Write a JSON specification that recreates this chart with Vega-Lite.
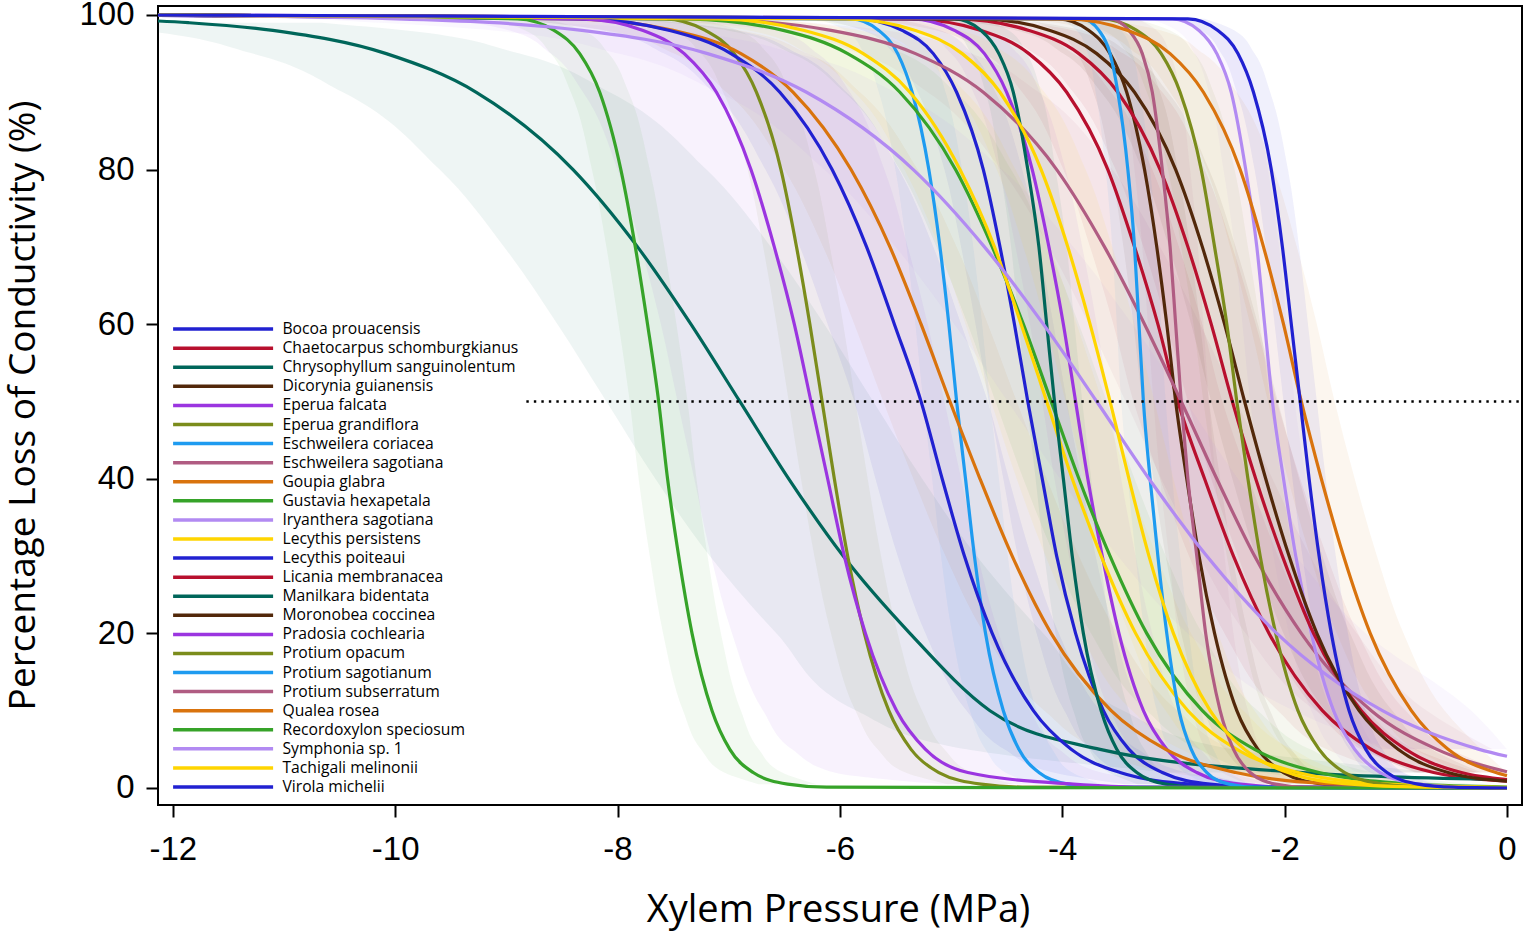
{
"$schema": "https://vega.github.io/schema/vega-lite/v6.json",
"width": 1364, "height": 799,
"autosize": {"type": "none"},
"padding": {"left": 158, "top": 6, "right": 2, "bottom": 129},
"background": "white",
"config": {"view": {"stroke": "black", "strokeWidth": 2}},
"datasets": {
"ref": [{"p": -8.82, "p2": 0.135, "y": 50}],
"c": [
{"sp":"Bocoa prouacensis","x":-12.5,"y":100},
{"sp":"Bocoa prouacensis","x":-5.84,"y":99.5,"lo":-6.19,"hi":-5.49},
{"sp":"Bocoa prouacensis","x":-5.44,"y":98,"lo":-5.79,"hi":-5.09},
{"sp":"Bocoa prouacensis","x":-5.16,"y":95,"lo":-5.51,"hi":-4.81},
{"sp":"Bocoa prouacensis","x":-4.95,"y":90,"lo":-5.30,"hi":-4.60},
{"sp":"Bocoa prouacensis","x":-4.71,"y":80,"lo":-5.06,"hi":-4.36},
{"sp":"Bocoa prouacensis","x":-4.56,"y":70,"lo":-4.91,"hi":-4.21},
{"sp":"Bocoa prouacensis","x":-4.43,"y":60,"lo":-4.78,"hi":-4.08},
{"sp":"Bocoa prouacensis","x":-4.31,"y":50,"lo":-4.66,"hi":-3.96},
{"sp":"Bocoa prouacensis","x":-4.18,"y":40,"lo":-4.53,"hi":-3.83},
{"sp":"Bocoa prouacensis","x":-4.05,"y":30,"lo":-4.40,"hi":-3.70},
{"sp":"Bocoa prouacensis","x":-3.88,"y":20,"lo":-4.23,"hi":-3.53},
{"sp":"Bocoa prouacensis","x":-3.63,"y":10,"lo":-3.98,"hi":-3.28},
{"sp":"Bocoa prouacensis","x":-3.40,"y":5,"lo":-3.75,"hi":-3.05},
{"sp":"Bocoa prouacensis","x":-3.10,"y":2,"lo":-3.45,"hi":-2.75},
{"sp":"Bocoa prouacensis","x":-2.67,"y":0.5,"lo":-3.02,"hi":-2.32},
{"sp":"Bocoa prouacensis","x":-2.17,"y":0.1},
{"sp":"Bocoa prouacensis","x":0,"y":0},

{"sp":"Chaetocarpus schomburgkianus","x":-12.5,"y":100},
{"sp":"Chaetocarpus schomburgkianus","x":-5.37,"y":99.5,"lo":-5.77,"hi":-4.97},
{"sp":"Chaetocarpus schomburgkianus","x":-4.73,"y":98,"lo":-5.13,"hi":-4.33},
{"sp":"Chaetocarpus schomburgkianus","x":-4.30,"y":95,"lo":-4.70,"hi":-3.90},
{"sp":"Chaetocarpus schomburgkianus","x":-3.96,"y":90,"lo":-4.36,"hi":-3.56},
{"sp":"Chaetocarpus schomburgkianus","x":-3.59,"y":80,"lo":-3.99,"hi":-3.19},
{"sp":"Chaetocarpus schomburgkianus","x":-3.35,"y":70,"lo":-3.75,"hi":-2.95},
{"sp":"Chaetocarpus schomburgkianus","x":-3.14,"y":60,"lo":-3.54,"hi":-2.74},
{"sp":"Chaetocarpus schomburgkianus","x":-2.96,"y":50,"lo":-3.36,"hi":-2.56},
{"sp":"Chaetocarpus schomburgkianus","x":-2.72,"y":40,"lo":-3.12,"hi":-2.32},
{"sp":"Chaetocarpus schomburgkianus","x":-2.46,"y":30,"lo":-2.86,"hi":-2.06},
{"sp":"Chaetocarpus schomburgkianus","x":-2.14,"y":20,"lo":-2.54,"hi":-1.74},
{"sp":"Chaetocarpus schomburgkianus","x":-1.66,"y":10,"lo":-2.06,"hi":-1.26},
{"sp":"Chaetocarpus schomburgkianus","x":-1.22,"y":5,"lo":-1.62,"hi":-0.82},
{"sp":"Chaetocarpus schomburgkianus","x":-0.66,"y":2,"lo":-1.06,"hi":-0.26},
{"sp":"Chaetocarpus schomburgkianus","x":0,"y":0.9},

{"sp":"Chrysophyllum sanguinolentum","x":-12.5,"y":99.44},
{"sp":"Chrysophyllum sanguinolentum","x":-11.86,"y":99,"lo":-13.06,"hi":-10.66},
{"sp":"Chrysophyllum sanguinolentum","x":-11.10,"y":98,"lo":-12.30,"hi":-9.90},
{"sp":"Chrysophyllum sanguinolentum","x":-10.08,"y":95,"lo":-11.28,"hi":-8.88},
{"sp":"Chrysophyllum sanguinolentum","x":-9.27,"y":90,"lo":-10.47,"hi":-8.07},
{"sp":"Chrysophyllum sanguinolentum","x":-8.40,"y":80,"lo":-9.60,"hi":-7.20},
{"sp":"Chrysophyllum sanguinolentum","x":-7.82,"y":70,"lo":-9.02,"hi":-6.62},
{"sp":"Chrysophyllum sanguinolentum","x":-7.34,"y":60,"lo":-8.54,"hi":-6.14},
{"sp":"Chrysophyllum sanguinolentum","x":-6.90,"y":50,"lo":-8.10,"hi":-5.70},
{"sp":"Chrysophyllum sanguinolentum","x":-6.46,"y":40,"lo":-7.66,"hi":-5.26},
{"sp":"Chrysophyllum sanguinolentum","x":-5.97,"y":30,"lo":-7.17,"hi":-4.77},
{"sp":"Chrysophyllum sanguinolentum","x":-5.37,"y":20,"lo":-6.57,"hi":-4.17},
{"sp":"Chrysophyllum sanguinolentum","x":-4.65,"y":10,"lo":-5.85,"hi":-3.45},
{"sp":"Chrysophyllum sanguinolentum","x":-3.66,"y":5,"lo":-4.86,"hi":-2.46},
{"sp":"Chrysophyllum sanguinolentum","x":-1.84,"y":2,"lo":-3.04,"hi":-0.64},
{"sp":"Chrysophyllum sanguinolentum","x":0,"y":1.1},

{"sp":"Dicorynia guianensis","x":-12.5,"y":100},
{"sp":"Dicorynia guianensis","x":-4.04,"y":99.5,"lo":-4.34,"hi":-3.74},
{"sp":"Dicorynia guianensis","x":-3.76,"y":98,"lo":-4.06,"hi":-3.46},
{"sp":"Dicorynia guianensis","x":-3.57,"y":95,"lo":-3.87,"hi":-3.27},
{"sp":"Dicorynia guianensis","x":-3.42,"y":90,"lo":-3.72,"hi":-3.12},
{"sp":"Dicorynia guianensis","x":-3.26,"y":80,"lo":-3.56,"hi":-2.96},
{"sp":"Dicorynia guianensis","x":-3.15,"y":70,"lo":-3.45,"hi":-2.85},
{"sp":"Dicorynia guianensis","x":-3.06,"y":60,"lo":-3.36,"hi":-2.76},
{"sp":"Dicorynia guianensis","x":-2.98,"y":50,"lo":-3.28,"hi":-2.68},
{"sp":"Dicorynia guianensis","x":-2.88,"y":40,"lo":-3.18,"hi":-2.58},
{"sp":"Dicorynia guianensis","x":-2.77,"y":30,"lo":-3.07,"hi":-2.47},
{"sp":"Dicorynia guianensis","x":-2.63,"y":20,"lo":-2.93,"hi":-2.33},
{"sp":"Dicorynia guianensis","x":-2.43,"y":10,"lo":-2.73,"hi":-2.13},
{"sp":"Dicorynia guianensis","x":-2.24,"y":5,"lo":-2.54,"hi":-1.94},
{"sp":"Dicorynia guianensis","x":-2.01,"y":2,"lo":-2.31,"hi":-1.71},
{"sp":"Dicorynia guianensis","x":-1.66,"y":0.5,"lo":-1.96,"hi":-1.36},
{"sp":"Dicorynia guianensis","x":-1.26,"y":0.1},
{"sp":"Dicorynia guianensis","x":0,"y":0},

{"sp":"Eperua falcata","x":-12.5,"y":100},
{"sp":"Eperua falcata","x":-5.36,"y":99.5,"lo":-5.66,"hi":-5.06},
{"sp":"Eperua falcata","x":-4.97,"y":98,"lo":-5.27,"hi":-4.67},
{"sp":"Eperua falcata","x":-4.70,"y":95,"lo":-5.00,"hi":-4.40},
{"sp":"Eperua falcata","x":-4.50,"y":90,"lo":-4.80,"hi":-4.20},
{"sp":"Eperua falcata","x":-4.27,"y":80,"lo":-4.57,"hi":-3.97},
{"sp":"Eperua falcata","x":-4.12,"y":70,"lo":-4.42,"hi":-3.82},
{"sp":"Eperua falcata","x":-3.99,"y":60,"lo":-4.29,"hi":-3.69},
{"sp":"Eperua falcata","x":-3.88,"y":50,"lo":-4.18,"hi":-3.58},
{"sp":"Eperua falcata","x":-3.77,"y":40,"lo":-4.07,"hi":-3.47},
{"sp":"Eperua falcata","x":-3.64,"y":30,"lo":-3.94,"hi":-3.34},
{"sp":"Eperua falcata","x":-3.49,"y":20,"lo":-3.79,"hi":-3.19},
{"sp":"Eperua falcata","x":-3.27,"y":10,"lo":-3.57,"hi":-2.97},
{"sp":"Eperua falcata","x":-3.06,"y":5,"lo":-3.36,"hi":-2.76},
{"sp":"Eperua falcata","x":-2.79,"y":2,"lo":-3.09,"hi":-2.49},
{"sp":"Eperua falcata","x":-2.40,"y":0.5,"lo":-2.70,"hi":-2.10},
{"sp":"Eperua falcata","x":-1.95,"y":0.1},
{"sp":"Eperua falcata","x":0,"y":0},

{"sp":"Eperua grandiflora","x":-12.5,"y":100},
{"sp":"Eperua grandiflora","x":-7.58,"y":99.5,"lo":-7.88,"hi":-7.28},
{"sp":"Eperua grandiflora","x":-7.21,"y":98,"lo":-7.51,"hi":-6.91},
{"sp":"Eperua grandiflora","x":-6.95,"y":95,"lo":-7.25,"hi":-6.65},
{"sp":"Eperua grandiflora","x":-6.75,"y":90,"lo":-7.05,"hi":-6.45},
{"sp":"Eperua grandiflora","x":-6.53,"y":80,"lo":-6.83,"hi":-6.23},
{"sp":"Eperua grandiflora","x":-6.39,"y":70,"lo":-6.69,"hi":-6.09},
{"sp":"Eperua grandiflora","x":-6.27,"y":60,"lo":-6.57,"hi":-5.97},
{"sp":"Eperua grandiflora","x":-6.16,"y":50,"lo":-6.46,"hi":-5.86},
{"sp":"Eperua grandiflora","x":-6.05,"y":40,"lo":-6.35,"hi":-5.75},
{"sp":"Eperua grandiflora","x":-5.93,"y":30,"lo":-6.23,"hi":-5.63},
{"sp":"Eperua grandiflora","x":-5.78,"y":20,"lo":-6.08,"hi":-5.48},
{"sp":"Eperua grandiflora","x":-5.56,"y":10,"lo":-5.86,"hi":-5.26},
{"sp":"Eperua grandiflora","x":-5.36,"y":5,"lo":-5.66,"hi":-5.06},
{"sp":"Eperua grandiflora","x":-5.11,"y":2,"lo":-5.41,"hi":-4.81},
{"sp":"Eperua grandiflora","x":-4.73,"y":0.5,"lo":-5.03,"hi":-4.43},
{"sp":"Eperua grandiflora","x":-4.30,"y":0.1},
{"sp":"Eperua grandiflora","x":0,"y":0},

{"sp":"Eschweilera coriacea","x":-12.5,"y":100},
{"sp":"Eschweilera coriacea","x":-5.90,"y":99.5,"lo":-6.20,"hi":-5.60},
{"sp":"Eschweilera coriacea","x":-5.65,"y":98,"lo":-5.95,"hi":-5.35},
{"sp":"Eschweilera coriacea","x":-5.48,"y":95,"lo":-5.78,"hi":-5.18},
{"sp":"Eschweilera coriacea","x":-5.35,"y":90,"lo":-5.65,"hi":-5.05},
{"sp":"Eschweilera coriacea","x":-5.20,"y":80,"lo":-5.50,"hi":-4.90},
{"sp":"Eschweilera coriacea","x":-5.10,"y":70,"lo":-5.40,"hi":-4.80},
{"sp":"Eschweilera coriacea","x":-5.02,"y":60,"lo":-5.32,"hi":-4.72},
{"sp":"Eschweilera coriacea","x":-4.95,"y":50,"lo":-5.25,"hi":-4.65},
{"sp":"Eschweilera coriacea","x":-4.87,"y":40,"lo":-5.17,"hi":-4.57},
{"sp":"Eschweilera coriacea","x":-4.79,"y":30,"lo":-5.09,"hi":-4.49},
{"sp":"Eschweilera coriacea","x":-4.69,"y":20,"lo":-4.99,"hi":-4.39},
{"sp":"Eschweilera coriacea","x":-4.53,"y":10,"lo":-4.83,"hi":-4.23},
{"sp":"Eschweilera coriacea","x":-4.39,"y":5,"lo":-4.69,"hi":-4.09},
{"sp":"Eschweilera coriacea","x":-4.21,"y":2,"lo":-4.51,"hi":-3.91},
{"sp":"Eschweilera coriacea","x":-3.95,"y":0.5,"lo":-4.25,"hi":-3.65},
{"sp":"Eschweilera coriacea","x":-3.64,"y":0.1},
{"sp":"Eschweilera coriacea","x":0,"y":0},

{"sp":"Eschweilera sagotiana","x":-12.5,"y":100},
{"sp":"Eschweilera sagotiana","x":-7.22,"y":99.5,"lo":-7.72,"hi":-6.72},
{"sp":"Eschweilera sagotiana","x":-6.08,"y":98,"lo":-6.58,"hi":-5.58},
{"sp":"Eschweilera sagotiana","x":-5.32,"y":95,"lo":-5.82,"hi":-4.82},
{"sp":"Eschweilera sagotiana","x":-4.71,"y":90,"lo":-5.21,"hi":-4.21},
{"sp":"Eschweilera sagotiana","x":-4.05,"y":80,"lo":-4.55,"hi":-3.55},
{"sp":"Eschweilera sagotiana","x":-3.62,"y":70,"lo":-4.12,"hi":-3.12},
{"sp":"Eschweilera sagotiana","x":-3.26,"y":60,"lo":-3.76,"hi":-2.76},
{"sp":"Eschweilera sagotiana","x":-2.93,"y":50,"lo":-3.43,"hi":-2.43},
{"sp":"Eschweilera sagotiana","x":-2.61,"y":40,"lo":-3.11,"hi":-2.11},
{"sp":"Eschweilera sagotiana","x":-2.27,"y":30,"lo":-2.77,"hi":-1.77},
{"sp":"Eschweilera sagotiana","x":-1.85,"y":20,"lo":-2.35,"hi":-1.35},
{"sp":"Eschweilera sagotiana","x":-1.22,"y":10,"lo":-1.72,"hi":-0.72},
{"sp":"Eschweilera sagotiana","x":-0.63,"y":5,"lo":-1.13,"hi":-0.13},
{"sp":"Eschweilera sagotiana","x":0,"y":2.1},

{"sp":"Goupia glabra","x":-12.5,"y":100},
{"sp":"Goupia glabra","x":-8.40,"y":99.5,"lo":-9.00,"hi":-7.80},
{"sp":"Goupia glabra","x":-7.50,"y":98,"lo":-8.10,"hi":-6.90},
{"sp":"Goupia glabra","x":-6.89,"y":95,"lo":-7.49,"hi":-6.29},
{"sp":"Goupia glabra","x":-6.42,"y":90,"lo":-7.02,"hi":-5.82},
{"sp":"Goupia glabra","x":-5.90,"y":80,"lo":-6.50,"hi":-5.30},
{"sp":"Goupia glabra","x":-5.55,"y":70,"lo":-6.15,"hi":-4.95},
{"sp":"Goupia glabra","x":-5.27,"y":60,"lo":-5.87,"hi":-4.67},
{"sp":"Goupia glabra","x":-5.01,"y":50,"lo":-5.61,"hi":-4.41},
{"sp":"Goupia glabra","x":-4.74,"y":40,"lo":-5.34,"hi":-4.14},
{"sp":"Goupia glabra","x":-4.45,"y":30,"lo":-5.05,"hi":-3.85},
{"sp":"Goupia glabra","x":-4.10,"y":20,"lo":-4.70,"hi":-3.50},
{"sp":"Goupia glabra","x":-3.56,"y":10,"lo":-4.16,"hi":-2.96},
{"sp":"Goupia glabra","x":-3.07,"y":5,"lo":-3.67,"hi":-2.47},
{"sp":"Goupia glabra","x":-2.44,"y":2,"lo":-3.04,"hi":-1.84},
{"sp":"Goupia glabra","x":-1.52,"y":0.5,"lo":-2.12,"hi":-0.92},
{"sp":"Goupia glabra","x":-0.46,"y":0.1},
{"sp":"Goupia glabra","x":0,"y":0.05},

{"sp":"Gustavia hexapetala","x":-12.5,"y":100},
{"sp":"Gustavia hexapetala","x":-7.38,"y":99.5,"lo":-7.88,"hi":-6.88},
{"sp":"Gustavia hexapetala","x":-6.51,"y":98,"lo":-7.01,"hi":-6.01},
{"sp":"Gustavia hexapetala","x":-5.93,"y":95,"lo":-6.43,"hi":-5.43},
{"sp":"Gustavia hexapetala","x":-5.46,"y":90,"lo":-5.96,"hi":-4.96},
{"sp":"Gustavia hexapetala","x":-4.96,"y":80,"lo":-5.46,"hi":-4.46},
{"sp":"Gustavia hexapetala","x":-4.63,"y":70,"lo":-5.13,"hi":-4.13},
{"sp":"Gustavia hexapetala","x":-4.35,"y":60,"lo":-4.85,"hi":-3.85},
{"sp":"Gustavia hexapetala","x":-4.10,"y":50,"lo":-4.60,"hi":-3.60},
{"sp":"Gustavia hexapetala","x":-3.85,"y":40,"lo":-4.35,"hi":-3.35},
{"sp":"Gustavia hexapetala","x":-3.57,"y":30,"lo":-4.07,"hi":-3.07},
{"sp":"Gustavia hexapetala","x":-3.24,"y":20,"lo":-3.74,"hi":-2.74},
{"sp":"Gustavia hexapetala","x":-2.74,"y":10,"lo":-3.24,"hi":-2.24},
{"sp":"Gustavia hexapetala","x":-2.27,"y":5,"lo":-2.77,"hi":-1.77},
{"sp":"Gustavia hexapetala","x":-1.69,"y":2,"lo":-2.19,"hi":-1.19},
{"sp":"Gustavia hexapetala","x":-0.82,"y":0.5,"lo":-1.32,"hi":-0.32},
{"sp":"Gustavia hexapetala","x":0,"y":0.13},

{"sp":"Iryanthera sagotiana","x":-12.5,"y":100},
{"sp":"Iryanthera sagotiana","x":-3.01,"y":99.5,"lo":-3.21,"hi":-2.81},
{"sp":"Iryanthera sagotiana","x":-2.77,"y":98,"lo":-2.97,"hi":-2.57},
{"sp":"Iryanthera sagotiana","x":-2.61,"y":95,"lo":-2.81,"hi":-2.41},
{"sp":"Iryanthera sagotiana","x":-2.48,"y":90,"lo":-2.68,"hi":-2.28},
{"sp":"Iryanthera sagotiana","x":-2.35,"y":80,"lo":-2.55,"hi":-2.15},
{"sp":"Iryanthera sagotiana","x":-2.25,"y":70,"lo":-2.45,"hi":-2.05},
{"sp":"Iryanthera sagotiana","x":-2.18,"y":60,"lo":-2.38,"hi":-1.98},
{"sp":"Iryanthera sagotiana","x":-2.11,"y":50,"lo":-2.31,"hi":-1.91},
{"sp":"Iryanthera sagotiana","x":-2.01,"y":40,"lo":-2.21,"hi":-1.81},
{"sp":"Iryanthera sagotiana","x":-1.90,"y":30,"lo":-2.10,"hi":-1.70},
{"sp":"Iryanthera sagotiana","x":-1.76,"y":20,"lo":-1.96,"hi":-1.56},
{"sp":"Iryanthera sagotiana","x":-1.56,"y":10,"lo":-1.76,"hi":-1.36},
{"sp":"Iryanthera sagotiana","x":-1.37,"y":5,"lo":-1.57,"hi":-1.17},
{"sp":"Iryanthera sagotiana","x":-1.14,"y":2,"lo":-1.34,"hi":-0.94},
{"sp":"Iryanthera sagotiana","x":-0.79,"y":0.5,"lo":-0.99,"hi":-0.59},
{"sp":"Iryanthera sagotiana","x":-0.39,"y":0.1},
{"sp":"Iryanthera sagotiana","x":0,"y":0},

{"sp":"Lecythis persistens","x":-12.5,"y":100},
{"sp":"Lecythis persistens","x":-7.10,"y":99.5,"lo":-7.60,"hi":-6.60},
{"sp":"Lecythis persistens","x":-6.32,"y":98,"lo":-6.82,"hi":-5.82},
{"sp":"Lecythis persistens","x":-5.79,"y":95,"lo":-6.29,"hi":-5.29},
{"sp":"Lecythis persistens","x":-5.37,"y":90,"lo":-5.87,"hi":-4.87},
{"sp":"Lecythis persistens","x":-4.92,"y":80,"lo":-5.42,"hi":-4.42},
{"sp":"Lecythis persistens","x":-4.61,"y":70,"lo":-5.11,"hi":-4.11},
{"sp":"Lecythis persistens","x":-4.37,"y":60,"lo":-4.87,"hi":-3.87},
{"sp":"Lecythis persistens","x":-4.14,"y":50,"lo":-4.64,"hi":-3.64},
{"sp":"Lecythis persistens","x":-3.91,"y":40,"lo":-4.41,"hi":-3.41},
{"sp":"Lecythis persistens","x":-3.65,"y":30,"lo":-4.15,"hi":-3.15},
{"sp":"Lecythis persistens","x":-3.34,"y":20,"lo":-3.84,"hi":-2.84},
{"sp":"Lecythis persistens","x":-2.87,"y":10,"lo":-3.37,"hi":-2.37},
{"sp":"Lecythis persistens","x":-2.43,"y":5,"lo":-2.93,"hi":-1.93},
{"sp":"Lecythis persistens","x":-1.88,"y":2,"lo":-2.38,"hi":-1.38},
{"sp":"Lecythis persistens","x":-1.07,"y":0.5,"lo":-1.57,"hi":-0.57},
{"sp":"Lecythis persistens","x":-0.14,"y":0.1},
{"sp":"Lecythis persistens","x":0,"y":0.08},

{"sp":"Lecythis poiteaui","x":-12.5,"y":100},
{"sp":"Lecythis poiteaui","x":-8.34,"y":99.5,"lo":-8.94,"hi":-7.74},
{"sp":"Lecythis poiteaui","x":-7.53,"y":98,"lo":-8.13,"hi":-6.93},
{"sp":"Lecythis poiteaui","x":-6.98,"y":95,"lo":-7.58,"hi":-6.38},
{"sp":"Lecythis poiteaui","x":-6.54,"y":90,"lo":-7.14,"hi":-5.94},
{"sp":"Lecythis poiteaui","x":-6.07,"y":80,"lo":-6.67,"hi":-5.47},
{"sp":"Lecythis poiteaui","x":-5.76,"y":70,"lo":-6.36,"hi":-5.16},
{"sp":"Lecythis poiteaui","x":-5.51,"y":60,"lo":-6.11,"hi":-4.91},
{"sp":"Lecythis poiteaui","x":-5.27,"y":50,"lo":-5.87,"hi":-4.67},
{"sp":"Lecythis poiteaui","x":-5.08,"y":40,"lo":-5.68,"hi":-4.48},
{"sp":"Lecythis poiteaui","x":-4.88,"y":30,"lo":-5.48,"hi":-4.28},
{"sp":"Lecythis poiteaui","x":-4.63,"y":20,"lo":-5.23,"hi":-4.03},
{"sp":"Lecythis poiteaui","x":-4.26,"y":10,"lo":-4.86,"hi":-3.66},
{"sp":"Lecythis poiteaui","x":-3.92,"y":5,"lo":-4.52,"hi":-3.32},
{"sp":"Lecythis poiteaui","x":-3.48,"y":2,"lo":-4.08,"hi":-2.88},
{"sp":"Lecythis poiteaui","x":-2.84,"y":0.5,"lo":-3.44,"hi":-2.24},
{"sp":"Lecythis poiteaui","x":-2.10,"y":0.1},
{"sp":"Lecythis poiteaui","x":0,"y":0},

{"sp":"Licania membranacea","x":-12.5,"y":100},
{"sp":"Licania membranacea","x":-4.96,"y":99.5,"lo":-5.36,"hi":-4.56},
{"sp":"Licania membranacea","x":-4.30,"y":98,"lo":-4.70,"hi":-3.90},
{"sp":"Licania membranacea","x":-3.85,"y":95,"lo":-4.25,"hi":-3.45},
{"sp":"Licania membranacea","x":-3.50,"y":90,"lo":-3.90,"hi":-3.10},
{"sp":"Licania membranacea","x":-3.12,"y":80,"lo":-3.52,"hi":-2.72},
{"sp":"Licania membranacea","x":-2.87,"y":70,"lo":-3.27,"hi":-2.47},
{"sp":"Licania membranacea","x":-2.66,"y":60,"lo":-3.06,"hi":-2.26},
{"sp":"Licania membranacea","x":-2.47,"y":50,"lo":-2.87,"hi":-2.07},
{"sp":"Licania membranacea","x":-2.26,"y":40,"lo":-2.66,"hi":-1.86},
{"sp":"Licania membranacea","x":-2.02,"y":30,"lo":-2.42,"hi":-1.62},
{"sp":"Licania membranacea","x":-1.74,"y":20,"lo":-2.14,"hi":-1.34},
{"sp":"Licania membranacea","x":-1.31,"y":10,"lo":-1.71,"hi":-0.91},
{"sp":"Licania membranacea","x":-0.91,"y":5,"lo":-1.31,"hi":-0.51},
{"sp":"Licania membranacea","x":-0.41,"y":2,"lo":-0.81,"hi":0},
{"sp":"Licania membranacea","x":0,"y":1.1},

{"sp":"Manilkara bidentata","x":-12.5,"y":100},
{"sp":"Manilkara bidentata","x":-4.97,"y":99.5,"lo":-5.22,"hi":-4.72},
{"sp":"Manilkara bidentata","x":-4.73,"y":98,"lo":-4.98,"hi":-4.48},
{"sp":"Manilkara bidentata","x":-4.57,"y":95,"lo":-4.82,"hi":-4.32},
{"sp":"Manilkara bidentata","x":-4.44,"y":90,"lo":-4.69,"hi":-4.19},
{"sp":"Manilkara bidentata","x":-4.31,"y":80,"lo":-4.56,"hi":-4.06},
{"sp":"Manilkara bidentata","x":-4.21,"y":70,"lo":-4.46,"hi":-3.96},
{"sp":"Manilkara bidentata","x":-4.14,"y":60,"lo":-4.39,"hi":-3.89},
{"sp":"Manilkara bidentata","x":-4.07,"y":50,"lo":-4.32,"hi":-3.82},
{"sp":"Manilkara bidentata","x":-3.99,"y":40,"lo":-4.24,"hi":-3.74},
{"sp":"Manilkara bidentata","x":-3.91,"y":30,"lo":-4.16,"hi":-3.66},
{"sp":"Manilkara bidentata","x":-3.81,"y":20,"lo":-4.06,"hi":-3.56},
{"sp":"Manilkara bidentata","x":-3.65,"y":10,"lo":-3.90,"hi":-3.40},
{"sp":"Manilkara bidentata","x":-3.51,"y":5,"lo":-3.76,"hi":-3.26},
{"sp":"Manilkara bidentata","x":-3.33,"y":2,"lo":-3.58,"hi":-3.08},
{"sp":"Manilkara bidentata","x":-3.07,"y":0.5,"lo":-3.32,"hi":-2.82},
{"sp":"Manilkara bidentata","x":-2.76,"y":0.1},
{"sp":"Manilkara bidentata","x":0,"y":0},

{"sp":"Moronobea coccinea","x":-12.5,"y":100},
{"sp":"Moronobea coccinea","x":-4.74,"y":99.5,"lo":-5.04,"hi":-4.44},
{"sp":"Moronobea coccinea","x":-4.11,"y":98,"lo":-4.41,"hi":-3.81},
{"sp":"Moronobea coccinea","x":-3.69,"y":95,"lo":-3.99,"hi":-3.39},
{"sp":"Moronobea coccinea","x":-3.35,"y":90,"lo":-3.65,"hi":-3.05},
{"sp":"Moronobea coccinea","x":-2.98,"y":80,"lo":-3.28,"hi":-2.68},
{"sp":"Moronobea coccinea","x":-2.74,"y":70,"lo":-3.04,"hi":-2.44},
{"sp":"Moronobea coccinea","x":-2.54,"y":60,"lo":-2.84,"hi":-2.24},
{"sp":"Moronobea coccinea","x":-2.36,"y":50,"lo":-2.66,"hi":-2.06},
{"sp":"Moronobea coccinea","x":-2.17,"y":40,"lo":-2.47,"hi":-1.87},
{"sp":"Moronobea coccinea","x":-1.96,"y":30,"lo":-2.26,"hi":-1.66},
{"sp":"Moronobea coccinea","x":-1.71,"y":20,"lo":-2.01,"hi":-1.41},
{"sp":"Moronobea coccinea","x":-1.33,"y":10,"lo":-1.63,"hi":-1.03},
{"sp":"Moronobea coccinea","x":-0.98,"y":5,"lo":-1.28,"hi":-0.68},
{"sp":"Moronobea coccinea","x":-0.53,"y":2,"lo":-0.83,"hi":-0.23},
{"sp":"Moronobea coccinea","x":0,"y":0.9},

{"sp":"Pradosia cochlearia","x":-12.5,"y":100},
{"sp":"Pradosia cochlearia","x":-8.32,"y":99.5,"lo":-9.52,"hi":-7.12},
{"sp":"Pradosia cochlearia","x":-7.77,"y":98,"lo":-8.97,"hi":-6.57},
{"sp":"Pradosia cochlearia","x":-7.40,"y":95,"lo":-8.60,"hi":-6.20},
{"sp":"Pradosia cochlearia","x":-7.11,"y":90,"lo":-8.31,"hi":-5.91},
{"sp":"Pradosia cochlearia","x":-6.80,"y":80,"lo":-8.00,"hi":-5.60},
{"sp":"Pradosia cochlearia","x":-6.59,"y":70,"lo":-7.79,"hi":-5.39},
{"sp":"Pradosia cochlearia","x":-6.41,"y":60,"lo":-7.61,"hi":-5.21},
{"sp":"Pradosia cochlearia","x":-6.26,"y":50,"lo":-7.46,"hi":-5.06},
{"sp":"Pradosia cochlearia","x":-6.11,"y":40,"lo":-7.31,"hi":-4.91},
{"sp":"Pradosia cochlearia","x":-5.96,"y":30,"lo":-7.16,"hi":-4.76},
{"sp":"Pradosia cochlearia","x":-5.77,"y":20,"lo":-6.97,"hi":-4.57},
{"sp":"Pradosia cochlearia","x":-5.49,"y":10,"lo":-6.69,"hi":-4.29},
{"sp":"Pradosia cochlearia","x":-5.23,"y":5,"lo":-6.43,"hi":-4.03},
{"sp":"Pradosia cochlearia","x":-4.85,"y":2,"lo":-6.05,"hi":-3.65},
{"sp":"Pradosia cochlearia","x":-3.90,"y":0.5,"lo":-5.10,"hi":-2.70},
{"sp":"Pradosia cochlearia","x":-3.30,"y":0.1},
{"sp":"Pradosia cochlearia","x":0,"y":0},

{"sp":"Protium opacum","x":-12.5,"y":100},
{"sp":"Protium opacum","x":-3.65,"y":99.5,"lo":-3.95,"hi":-3.35},
{"sp":"Protium opacum","x":-3.33,"y":98,"lo":-3.63,"hi":-3.03},
{"sp":"Protium opacum","x":-3.11,"y":95,"lo":-3.41,"hi":-2.81},
{"sp":"Protium opacum","x":-2.94,"y":90,"lo":-3.24,"hi":-2.64},
{"sp":"Protium opacum","x":-2.75,"y":80,"lo":-3.05,"hi":-2.45},
{"sp":"Protium opacum","x":-2.63,"y":70,"lo":-2.93,"hi":-2.33},
{"sp":"Protium opacum","x":-2.52,"y":60,"lo":-2.82,"hi":-2.22},
{"sp":"Protium opacum","x":-2.43,"y":50,"lo":-2.73,"hi":-2.13},
{"sp":"Protium opacum","x":-2.33,"y":40,"lo":-2.63,"hi":-2.03},
{"sp":"Protium opacum","x":-2.22,"y":30,"lo":-2.52,"hi":-1.92},
{"sp":"Protium opacum","x":-2.08,"y":20,"lo":-2.38,"hi":-1.78},
{"sp":"Protium opacum","x":-1.88,"y":10,"lo":-2.18,"hi":-1.58},
{"sp":"Protium opacum","x":-1.69,"y":5,"lo":-1.99,"hi":-1.39},
{"sp":"Protium opacum","x":-1.46,"y":2,"lo":-1.76,"hi":-1.16},
{"sp":"Protium opacum","x":-1.11,"y":0.5,"lo":-1.41,"hi":-0.81},
{"sp":"Protium opacum","x":-0.71,"y":0.1},
{"sp":"Protium opacum","x":0,"y":0},

{"sp":"Protium sagotianum","x":-12.5,"y":100},
{"sp":"Protium sagotianum","x":-3.82,"y":99.5,"lo":-4.02,"hi":-3.62},
{"sp":"Protium sagotianum","x":-3.67,"y":98,"lo":-3.87,"hi":-3.47},
{"sp":"Protium sagotianum","x":-3.57,"y":95,"lo":-3.77,"hi":-3.37},
{"sp":"Protium sagotianum","x":-3.50,"y":90,"lo":-3.70,"hi":-3.30},
{"sp":"Protium sagotianum","x":-3.41,"y":80,"lo":-3.61,"hi":-3.21},
{"sp":"Protium sagotianum","x":-3.35,"y":70,"lo":-3.55,"hi":-3.15},
{"sp":"Protium sagotianum","x":-3.31,"y":60,"lo":-3.51,"hi":-3.11},
{"sp":"Protium sagotianum","x":-3.27,"y":50,"lo":-3.47,"hi":-3.07},
{"sp":"Protium sagotianum","x":-3.21,"y":40,"lo":-3.41,"hi":-3.01},
{"sp":"Protium sagotianum","x":-3.14,"y":30,"lo":-3.34,"hi":-2.94},
{"sp":"Protium sagotianum","x":-3.06,"y":20,"lo":-3.26,"hi":-2.86},
{"sp":"Protium sagotianum","x":-2.95,"y":10,"lo":-3.15,"hi":-2.75},
{"sp":"Protium sagotianum","x":-2.84,"y":5,"lo":-3.04,"hi":-2.64},
{"sp":"Protium sagotianum","x":-2.70,"y":2,"lo":-2.90,"hi":-2.50},
{"sp":"Protium sagotianum","x":-2.50,"y":0.5,"lo":-2.70,"hi":-2.30},
{"sp":"Protium sagotianum","x":-2.27,"y":0.1},
{"sp":"Protium sagotianum","x":0,"y":0},

{"sp":"Protium subserratum","x":-12.5,"y":100},
{"sp":"Protium subserratum","x":-3.57,"y":99.5,"lo":-3.82,"hi":-3.32},
{"sp":"Protium subserratum","x":-3.40,"y":98,"lo":-3.65,"hi":-3.15},
{"sp":"Protium subserratum","x":-3.28,"y":95,"lo":-3.53,"hi":-3.03},
{"sp":"Protium subserratum","x":-3.19,"y":90,"lo":-3.44,"hi":-2.94},
{"sp":"Protium subserratum","x":-3.10,"y":80,"lo":-3.35,"hi":-2.85},
{"sp":"Protium subserratum","x":-3.03,"y":70,"lo":-3.28,"hi":-2.78},
{"sp":"Protium subserratum","x":-2.98,"y":60,"lo":-3.23,"hi":-2.73},
{"sp":"Protium subserratum","x":-2.93,"y":50,"lo":-3.18,"hi":-2.68},
{"sp":"Protium subserratum","x":-2.87,"y":40,"lo":-3.12,"hi":-2.62},
{"sp":"Protium subserratum","x":-2.79,"y":30,"lo":-3.04,"hi":-2.54},
{"sp":"Protium subserratum","x":-2.71,"y":20,"lo":-2.96,"hi":-2.46},
{"sp":"Protium subserratum","x":-2.58,"y":10,"lo":-2.83,"hi":-2.33},
{"sp":"Protium subserratum","x":-2.46,"y":5,"lo":-2.71,"hi":-2.21},
{"sp":"Protium subserratum","x":-2.31,"y":2,"lo":-2.56,"hi":-2.06},
{"sp":"Protium subserratum","x":-2.08,"y":0.5,"lo":-2.33,"hi":-1.83},
{"sp":"Protium subserratum","x":-1.82,"y":0.1},
{"sp":"Protium subserratum","x":0,"y":0},

{"sp":"Qualea rosea","x":-12.5,"y":100},
{"sp":"Qualea rosea","x":-3.97,"y":99.5,"lo":-4.27,"hi":-3.67},
{"sp":"Qualea rosea","x":-3.41,"y":98,"lo":-3.71,"hi":-3.11},
{"sp":"Qualea rosea","x":-3.03,"y":95,"lo":-3.33,"hi":-2.73},
{"sp":"Qualea rosea","x":-2.73,"y":90,"lo":-3.03,"hi":-2.43},
{"sp":"Qualea rosea","x":-2.40,"y":80,"lo":-2.70,"hi":-2.10},
{"sp":"Qualea rosea","x":-2.19,"y":70,"lo":-2.49,"hi":-1.89},
{"sp":"Qualea rosea","x":-2.01,"y":60,"lo":-2.31,"hi":-1.71},
{"sp":"Qualea rosea","x":-1.85,"y":50,"lo":-2.15,"hi":-1.55},
{"sp":"Qualea rosea","x":-1.67,"y":40,"lo":-1.97,"hi":-1.37},
{"sp":"Qualea rosea","x":-1.47,"y":30,"lo":-1.77,"hi":-1.17},
{"sp":"Qualea rosea","x":-1.23,"y":20,"lo":-1.53,"hi":-0.93},
{"sp":"Qualea rosea","x":-0.86,"y":10,"lo":-1.16,"hi":-0.56},
{"sp":"Qualea rosea","x":-0.53,"y":5,"lo":-0.83,"hi":-0.23},
{"sp":"Qualea rosea","x":-0.10,"y":2,"lo":-0.40,"hi":0},
{"sp":"Qualea rosea","x":0,"y":1.6},

{"sp":"Recordoxylon speciosum","x":-12.5,"y":100},
{"sp":"Recordoxylon speciosum","x":-8.90,"y":99.5,"lo":-9.16,"hi":-8.64},
{"sp":"Recordoxylon speciosum","x":-8.57,"y":98,"lo":-8.83,"hi":-8.31},
{"sp":"Recordoxylon speciosum","x":-8.34,"y":95,"lo":-8.60,"hi":-8.08},
{"sp":"Recordoxylon speciosum","x":-8.16,"y":90,"lo":-8.42,"hi":-7.90},
{"sp":"Recordoxylon speciosum","x":-7.97,"y":80,"lo":-8.23,"hi":-7.71},
{"sp":"Recordoxylon speciosum","x":-7.84,"y":70,"lo":-8.10,"hi":-7.58},
{"sp":"Recordoxylon speciosum","x":-7.73,"y":60,"lo":-7.99,"hi":-7.47},
{"sp":"Recordoxylon speciosum","x":-7.63,"y":50,"lo":-7.89,"hi":-7.37},
{"sp":"Recordoxylon speciosum","x":-7.55,"y":40,"lo":-7.81,"hi":-7.29},
{"sp":"Recordoxylon speciosum","x":-7.45,"y":30,"lo":-7.71,"hi":-7.19},
{"sp":"Recordoxylon speciosum","x":-7.33,"y":20,"lo":-7.59,"hi":-7.07},
{"sp":"Recordoxylon speciosum","x":-7.15,"y":10,"lo":-7.41,"hi":-6.89},
{"sp":"Recordoxylon speciosum","x":-6.99,"y":5,"lo":-7.25,"hi":-6.73},
{"sp":"Recordoxylon speciosum","x":-6.78,"y":2,"lo":-7.04,"hi":-6.52},
{"sp":"Recordoxylon speciosum","x":-6.47,"y":0.5,"lo":-6.73,"hi":-6.21},
{"sp":"Recordoxylon speciosum","x":-6.12,"y":0.1},
{"sp":"Recordoxylon speciosum","x":0,"y":0},

{"sp":"Symphonia sp. 1","x":-12.5,"y":100},
{"sp":"Symphonia sp. 1","x":-9.99,"y":99.5,"lo":-10.79,"hi":-9.19},
{"sp":"Symphonia sp. 1","x":-8.32,"y":98,"lo":-9.12,"hi":-7.52},
{"sp":"Symphonia sp. 1","x":-7.19,"y":95,"lo":-7.99,"hi":-6.39},
{"sp":"Symphonia sp. 1","x":-6.30,"y":90,"lo":-7.10,"hi":-5.50},
{"sp":"Symphonia sp. 1","x":-5.34,"y":80,"lo":-6.14,"hi":-4.54},
{"sp":"Symphonia sp. 1","x":-4.70,"y":70,"lo":-5.50,"hi":-3.90},
{"sp":"Symphonia sp. 1","x":-4.17,"y":60,"lo":-4.97,"hi":-3.37},
{"sp":"Symphonia sp. 1","x":-3.69,"y":50,"lo":-4.49,"hi":-2.89},
{"sp":"Symphonia sp. 1","x":-3.22,"y":40,"lo":-4.02,"hi":-2.42},
{"sp":"Symphonia sp. 1","x":-2.70,"y":30,"lo":-3.50,"hi":-1.90},
{"sp":"Symphonia sp. 1","x":-2.07,"y":20,"lo":-2.87,"hi":-1.27},
{"sp":"Symphonia sp. 1","x":-1.12,"y":10,"lo":-1.92,"hi":-0.32},
{"sp":"Symphonia sp. 1","x":-0.25,"y":5,"lo":-1.05,"hi":0},
{"sp":"Symphonia sp. 1","x":0,"y":4.1},

{"sp":"Tachigali melinonii","x":-12.5,"y":100},
{"sp":"Tachigali melinonii","x":-5.95,"y":99.5,"lo":-6.35,"hi":-5.55},
{"sp":"Tachigali melinonii","x":-5.32,"y":98,"lo":-5.72,"hi":-4.92},
{"sp":"Tachigali melinonii","x":-4.90,"y":95,"lo":-5.30,"hi":-4.50},
{"sp":"Tachigali melinonii","x":-4.56,"y":90,"lo":-4.96,"hi":-4.16},
{"sp":"Tachigali melinonii","x":-4.19,"y":80,"lo":-4.59,"hi":-3.79},
{"sp":"Tachigali melinonii","x":-3.95,"y":70,"lo":-4.35,"hi":-3.55},
{"sp":"Tachigali melinonii","x":-3.75,"y":60,"lo":-4.15,"hi":-3.35},
{"sp":"Tachigali melinonii","x":-3.57,"y":50,"lo":-3.97,"hi":-3.17},
{"sp":"Tachigali melinonii","x":-3.40,"y":40,"lo":-3.80,"hi":-3.00},
{"sp":"Tachigali melinonii","x":-3.22,"y":30,"lo":-3.62,"hi":-2.82},
{"sp":"Tachigali melinonii","x":-3.00,"y":20,"lo":-3.40,"hi":-2.60},
{"sp":"Tachigali melinonii","x":-2.67,"y":10,"lo":-3.07,"hi":-2.27},
{"sp":"Tachigali melinonii","x":-2.36,"y":5,"lo":-2.76,"hi":-1.96},
{"sp":"Tachigali melinonii","x":-1.97,"y":2,"lo":-2.37,"hi":-1.57},
{"sp":"Tachigali melinonii","x":-1.40,"y":0.5,"lo":-1.80,"hi":-1.00},
{"sp":"Tachigali melinonii","x":-0.74,"y":0.1},
{"sp":"Tachigali melinonii","x":0,"y":0},

{"sp":"Virola michelii","x":-12.5,"y":100},
{"sp":"Virola michelii","x":-2.87,"y":99.5,"lo":-3.02,"hi":-2.72},
{"sp":"Virola michelii","x":-2.60,"y":98,"lo":-2.75,"hi":-2.45},
{"sp":"Virola michelii","x":-2.42,"y":95,"lo":-2.57,"hi":-2.27},
{"sp":"Virola michelii","x":-2.28,"y":90,"lo":-2.43,"hi":-2.13},
{"sp":"Virola michelii","x":-2.12,"y":80,"lo":-2.27,"hi":-1.97},
{"sp":"Virola michelii","x":-2.02,"y":70,"lo":-2.17,"hi":-1.87},
{"sp":"Virola michelii","x":-1.94,"y":60,"lo":-2.09,"hi":-1.79},
{"sp":"Virola michelii","x":-1.86,"y":50,"lo":-2.01,"hi":-1.71},
{"sp":"Virola michelii","x":-1.78,"y":40,"lo":-1.93,"hi":-1.63},
{"sp":"Virola michelii","x":-1.69,"y":30,"lo":-1.84,"hi":-1.54},
{"sp":"Virola michelii","x":-1.58,"y":20,"lo":-1.73,"hi":-1.43},
{"sp":"Virola michelii","x":-1.42,"y":10,"lo":-1.57,"hi":-1.27},
{"sp":"Virola michelii","x":-1.27,"y":5,"lo":-1.42,"hi":-1.12},
{"sp":"Virola michelii","x":-1.08,"y":2,"lo":-1.23,"hi":-0.93},
{"sp":"Virola michelii","x":-0.80,"y":0.5,"lo":-0.95,"hi":-0.65},
{"sp":"Virola michelii","x":-0.48,"y":0.1},
{"sp":"Virola michelii","x":0,"y":0}
]},
"layer": [
{
"data": {"name": "c"},
"mark": {"type": "area", "orient": "horizontal", "interpolate": "monotone", "fillOpacity": 0.065, "clip": true},
"encoding": {
"y": {"field": "y", "type": "quantitative", "scale": {"domain": [-2.2, 101.16], "nice": false, "zero": false}},
"x": {"field": "lo", "type": "quantitative", "scale": {"domain": [-12.133, 0.135], "nice": false, "zero": false}},
"x2": {"field": "hi"},
"color": {"field": "sp", "type": "nominal",
"scale": {"domain": ["Bocoa prouacensis","Chaetocarpus schomburgkianus","Chrysophyllum sanguinolentum","Dicorynia guianensis","Eperua falcata","Eperua grandiflora","Eschweilera coriacea","Eschweilera sagotiana","Goupia glabra","Gustavia hexapetala","Iryanthera sagotiana","Lecythis persistens","Lecythis poiteaui","Licania membranacea","Manilkara bidentata","Moronobea coccinea","Pradosia cochlearia","Protium opacum","Protium sagotianum","Protium subserratum","Qualea rosea","Recordoxylon speciosum","Symphonia sp. 1","Tachigali melinonii","Virola michelii"],
"range": ["#2121D1","#B8102E","#00665A","#52280A","#9B35E0","#7B8C1C","#1E9BF0","#B05C82","#D9730D","#36A329","#B28AF2","#FFD500","#2121D1","#B8102E","#00665A","#52280A","#9B35E0","#7B8C1C","#1E9BF0","#B05C82","#D9730D","#36A329","#B28AF2","#FFD500","#2121D1"]}}
}
},
{
"data": {"name": "c"},
"mark": {"type": "line", "interpolate": "monotone", "strokeWidth": 3.2, "clip": true},
"encoding": {
"x": {"field": "x", "type": "quantitative", "scale": {"domain": [-12.133, 0.135], "nice": false, "zero": false},
"axis": {"values": [-12,-10,-8,-6,-4,-2,0], "labelExpr": "'' + datum.value", "title": "Xylem Pressure (MPa)", "grid": false, "domain": false, "tickColor": "black", "tickWidth": 2, "tickSize": 12, "labelPadding": 16, "labelFont": "Liberation Sans", "labelFontSize": 33, "labelColor": "black", "titleFont": "Open Sans", "titleFontSize": 38, "titleFontWeight": "normal", "titleColor": "black", "titleX": 680, "titleY": 105, "titleAlign": "center", "titleBaseline": "middle"}},
"y": {"field": "y", "type": "quantitative", "scale": {"domain": [-2.2, 101.16], "nice": false, "zero": false},
"axis": {"values": [0,20,40,60,80,100], "labelExpr": "'' + datum.value", "title": "Percentage Loss of Conductivity (%)", "grid": false, "domain": false, "tickColor": "black", "tickWidth": 2, "tickSize": 12, "labelPadding": 12, "labelFont": "Liberation Sans", "labelFontSize": 33, "labelColor": "black", "titleFont": "Open Sans", "titleFontSize": 37, "titleFontWeight": "normal", "titleColor": "black", "titleX": -135, "titleY": 399, "titleAngle": -90, "titleAlign": "center", "titleBaseline": "middle"}},
"color": {"field": "sp", "type": "nominal",
"legend": {"orient": "none", "legendX": 13.25, "legendY": 315.25, "title": null, "symbolType": "M-10,0H10", "symbolSize": 100, "symbolStrokeWidth": 3.5, "symbolOffset": 44, "symbolOpacity": 1, "labelOffset": 51.5, "labelFont": "Open Sans", "labelFontSize": 15.7, "labelColor": "black", "labelLimit": 400, "rowPadding": 2.08, "padding": 0, "offset": 0,
"encode": {"symbols": {"update": {"stroke": {"scale": "color", "field": "value"}, "strokeOpacity": {"value": 1}, "fillOpacity": {"value": 0}, "opacity": {"value": 1}}}}}}
}
},
{
"data": {"name": "ref"},
"mark": {"type": "rule", "strokeDash": [2.4, 5.1], "strokeWidth": 2.4, "color": "black"},
"encoding": {
"x": {"field": "p", "type": "quantitative"},
"x2": {"field": "p2"},
"y": {"field": "y", "type": "quantitative"}
}
}
]
}
